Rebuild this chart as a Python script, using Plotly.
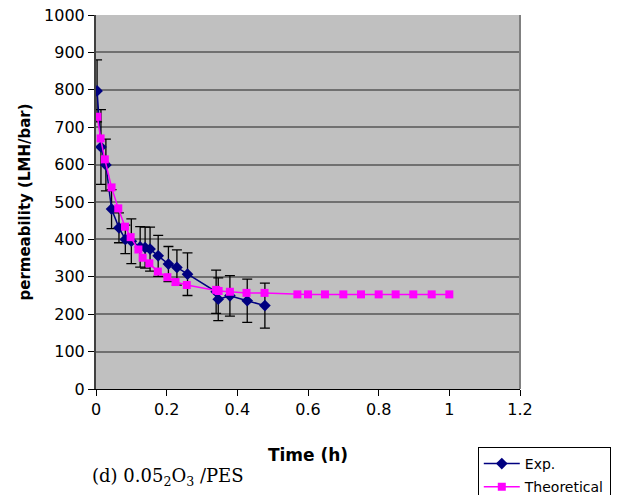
import plotly.graph_objects as go

# Experimental data
exp_t = [0.003, 0.014, 0.028, 0.044, 0.065, 0.083, 0.10, 0.125, 0.139, 0.153,
         0.176, 0.205, 0.229, 0.259, 0.340, 0.346, 0.379, 0.428, 0.478]
exp_v = [797, 647, 599, 481, 431, 400, 395, 380, 378, 374,
         356, 334, 325, 307, 260, 240, 249, 236, 223]
exp_err = [83, 100, 69, 52, 40, 38, 60, 54, 55, 59,
           55, 47, 47, 57, 58, 57, 54, 58, 60]

# Theoretical data
th_t = [0.004, 0.013, 0.025, 0.044, 0.063, 0.082, 0.098, 0.12, 0.132, 0.151,
        0.175, 0.202, 0.225, 0.257, 0.340, 0.347, 0.379, 0.426, 0.477, 0.57,
        0.60, 0.648, 0.70, 0.75, 0.80, 0.848, 0.898, 0.95, 1.0]
th_v = [728, 670, 614, 539, 483, 434, 406, 373, 351, 336,
        314, 299, 286, 278, 265, 262, 260, 257, 257, 253,
        253, 253, 253, 253, 253, 253, 253, 253, 253]

x_ticks = [0, 0.2, 0.4, 0.6, 0.8, 1, 1.2]
x_labels = ["0", "0.2", "0.4", "0.6", "0.8", "1", "1.2"]
y_ticks = list(range(0, 1001, 100))

fig = go.Figure()
fig.add_trace(go.Scatter(
    x=exp_t, y=exp_v, name="Exp.", mode="lines+markers", legendgroup="a",
    line=dict(color="#000080", width=1.5),
    marker=dict(symbol="diamond", size=9, color="#000080"),
    error_y=dict(type="data", array=exp_err, visible=True,
                 color="black", thickness=1.3, width=5),
))
fig.add_trace(go.Scatter(
    x=th_t, y=th_v, name="Theoretical", mode="lines+markers", legendgroup="b",
    line=dict(color="#FF00FF", width=1.5),
    marker=dict(symbol="square", size=8, color="#FF00FF"),
))

tick_font = dict(family="DejaVu Sans, Arial, sans-serif", size=16, color="black")

fig.update_layout(
    width=632, height=495,
    margin=dict(l=96, r=112, t=15, b=106, autoexpand=False),
    paper_bgcolor="white",
    plot_bgcolor="#C0C0C0",
    showlegend=True,
    legend=dict(
        xref="container", yref="container",
        x=0.756, y=0.097, xanchor="left", yanchor="top",
        bgcolor="white", bordercolor="black", borderwidth=1,
        font=dict(family="DejaVu Sans, Arial, sans-serif", size=14, color="black"),
        tracegroupgap=2, itemwidth=36,
    ),
    xaxis=dict(
        range=[0, 1.2], tickvals=x_ticks, ticktext=x_labels,
        showgrid=False, zeroline=False,
        showline=True, linecolor="black", linewidth=1,
        ticks="outside", ticklen=6, tickcolor="black",
        tickfont=tick_font, automargin=False,
        title=dict(text="<b>Time (h)</b>",
                   font=dict(family="DejaVu Sans, Arial, sans-serif", size=17, color="black"),
                   standoff=30),
    ),
    yaxis=dict(
        range=[0, 1000], tickvals=y_ticks,
        showgrid=True, gridcolor="#707070", gridwidth=1.5,
        zeroline=False,
        showline=True, linecolor="#404040", linewidth=2,
        ticks="outside", ticklen=6, tickcolor="black",
        tickfont=tick_font, automargin=False,
        title=dict(text="<b>permeability (LMH/bar)</b>",
                   font=dict(family="DejaVu Sans, Arial, sans-serif", size=15, color="black"),
                   standoff=10),
    ),
    annotations=[dict(
        text="(d) 0.05<sub>2</sub>O<sub>3</sub> /PES",
        xref="paper", yref="paper", x=-0.014, y=-0.235,
        xanchor="left", yanchor="middle", showarrow=False,
        font=dict(family="DejaVu Serif, Liberation Serif, serif", size=18, color="black"),
    )],
    shapes=[dict(type="line", xref="paper", yref="paper", x0=1, x1=1, y0=0, y1=1,
                 line=dict(color="#808080", width=2))],
)

fig.write_html(
    "out.html",
    config={"displayModeBar": False},
    post_script="document.body.style.margin='0';document.body.style.overflow='hidden';",
)
